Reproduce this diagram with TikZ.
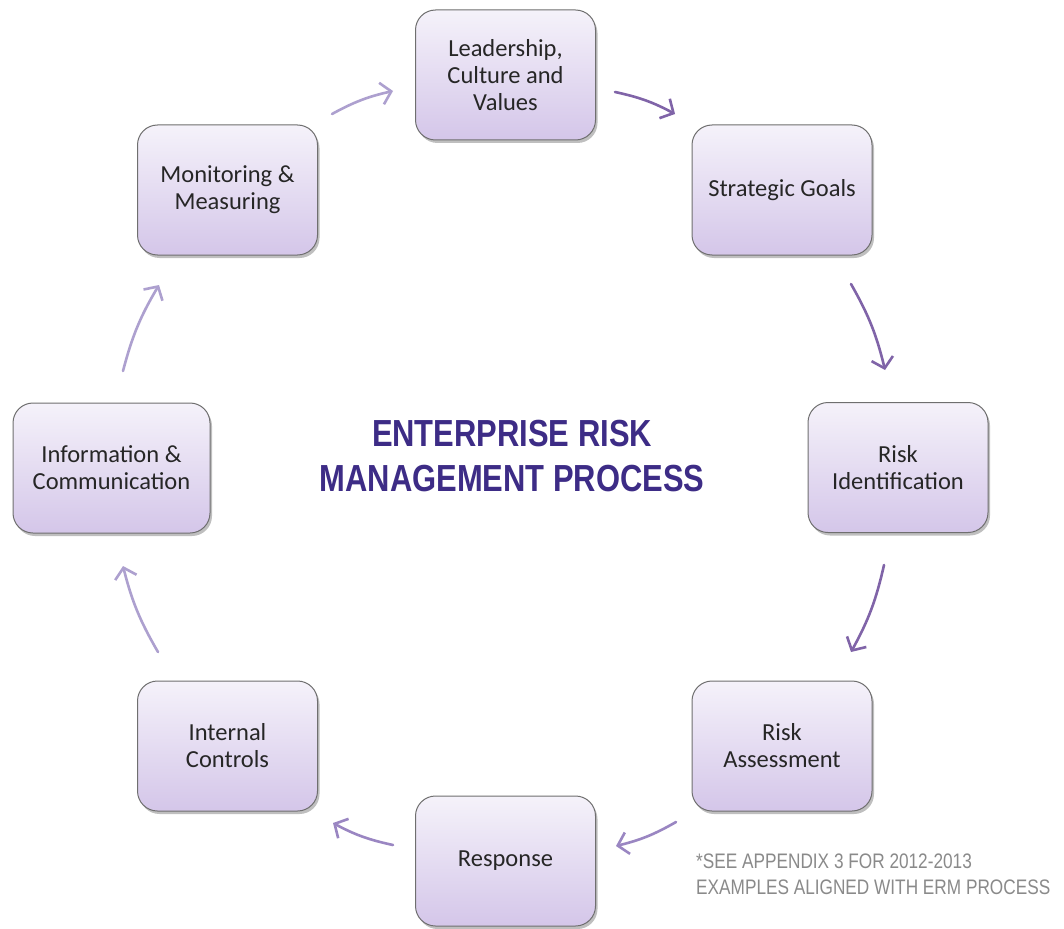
\documentclass[tikz,border=0pt]{standalone}
\usepackage{fontspec}
\setmainfont{Carlito}
\newfontfamily\titlefont[FakeStretch=0.82]{Liberation Sans}
\newfontfamily\notefont[FakeStretch=0.82]{Liberation Sans}
\usetikzlibrary{arrows.meta,shadows}
\definecolor{boxtop}{HTML}{F5F2FA}
\definecolor{boxbot}{HTML}{D4C6E9}
\definecolor{boxline}{HTML}{6F6F6F}
\definecolor{titlecol}{HTML}{3D2C86}
\definecolor{notecol}{HTML}{8A8A8A}
\definecolor{arrdark}{HTML}{8064A8}
\definecolor{arrmid}{HTML}{9A86C2}
\definecolor{arrlight}{HTML}{ADA0CF}
\tikzset{
  stagebox/.style={draw=boxline, line width=1pt, rounded corners=20pt,
    top color=boxtop, bottom color=boxbot,
    minimum width=180pt, minimum height=130pt, inner sep=0pt, align=center,
    font=\fontsize{24.5}{27}\selectfont, text=black!85,
    drop shadow={shadow xshift=2pt, shadow yshift=-3pt, opacity=0.25, fill=black}},
  cyc/.style={line width=2.6pt, line cap=round, -{Straight Barb[length=10pt,width=22pt]}, bend left=8},
}
\begin{document}
\begin{tikzpicture}[x=1pt,y=-1pt]
\path[use as bounding box, fill=white] (0,0) rectangle (1064,928);

\node[stagebox] (lead) at (505.5,75) {Leadership,\\Culture and\\Values};
\node[stagebox] (strat) at (782,190) {Strategic Goals};
\node[stagebox] (rid) at (898,467.5) {Risk\\Identification};
\node[stagebox] (rass) at (782,746) {Risk\\Assessment};
\node[stagebox] (resp) at (505.5,861) {Response};
\node[stagebox] (ictl) at (227.5,746) {Internal\\Controls};
\node[stagebox, minimum width=197pt] (info) at (111.5,468) {Information \&\\Communication};
\node[stagebox] (mon) at (227.5,190) {Monitoring \&\\Measuring};

\node[font=\titlefont\bfseries\fontsize{37.7}{45}\selectfont, text=titlecol, align=center] (title) at (512,456) {ENTERPRISE RISK\\MANAGEMENT PROCESS};

\node[font=\notefont\fontsize{21}{26}\selectfont, text=notecol, align=left, anchor=base west, inner sep=0pt] (note) at (696,894) {*SEE APPENDIX 3 FOR 2012-2013\\EXAMPLES ALIGNED WITH ERM PROCESS};

\coordinate (a1s) at (332,114); \coordinate (a1e) at (393,91);
\coordinate (a2s) at (615,92);  \coordinate (a2e) at (675,114);
\coordinate (a3s) at (851,284); \coordinate (a3e) at (885,370);
\coordinate (a4s) at (884,565); \coordinate (a4e) at (851,652);
\coordinate (a5s) at (676,822); \coordinate (a5e) at (616,846);
\coordinate (a6s) at (393,845); \coordinate (a6e) at (333,823);
\coordinate (a7s) at (158,652); \coordinate (a7e) at (123,566);
\coordinate (a8s) at (123,371); \coordinate (a8e) at (159,285);

\draw[cyc, arrlight] (a1s) to (a1e);
\draw[cyc, arrdark]  (a2s) to (a2e);
\draw[cyc, arrdark]  (a3s) to (a3e);
\draw[cyc, arrdark]  (a4s) to (a4e);
\draw[cyc, arrmid]   (a5s) to (a5e);
\draw[cyc, arrmid]   (a6s) to (a6e);
\draw[cyc, arrlight] (a7s) to (a7e);
\draw[cyc, arrlight] (a8s) to (a8e);
\end{tikzpicture}
\end{document}
